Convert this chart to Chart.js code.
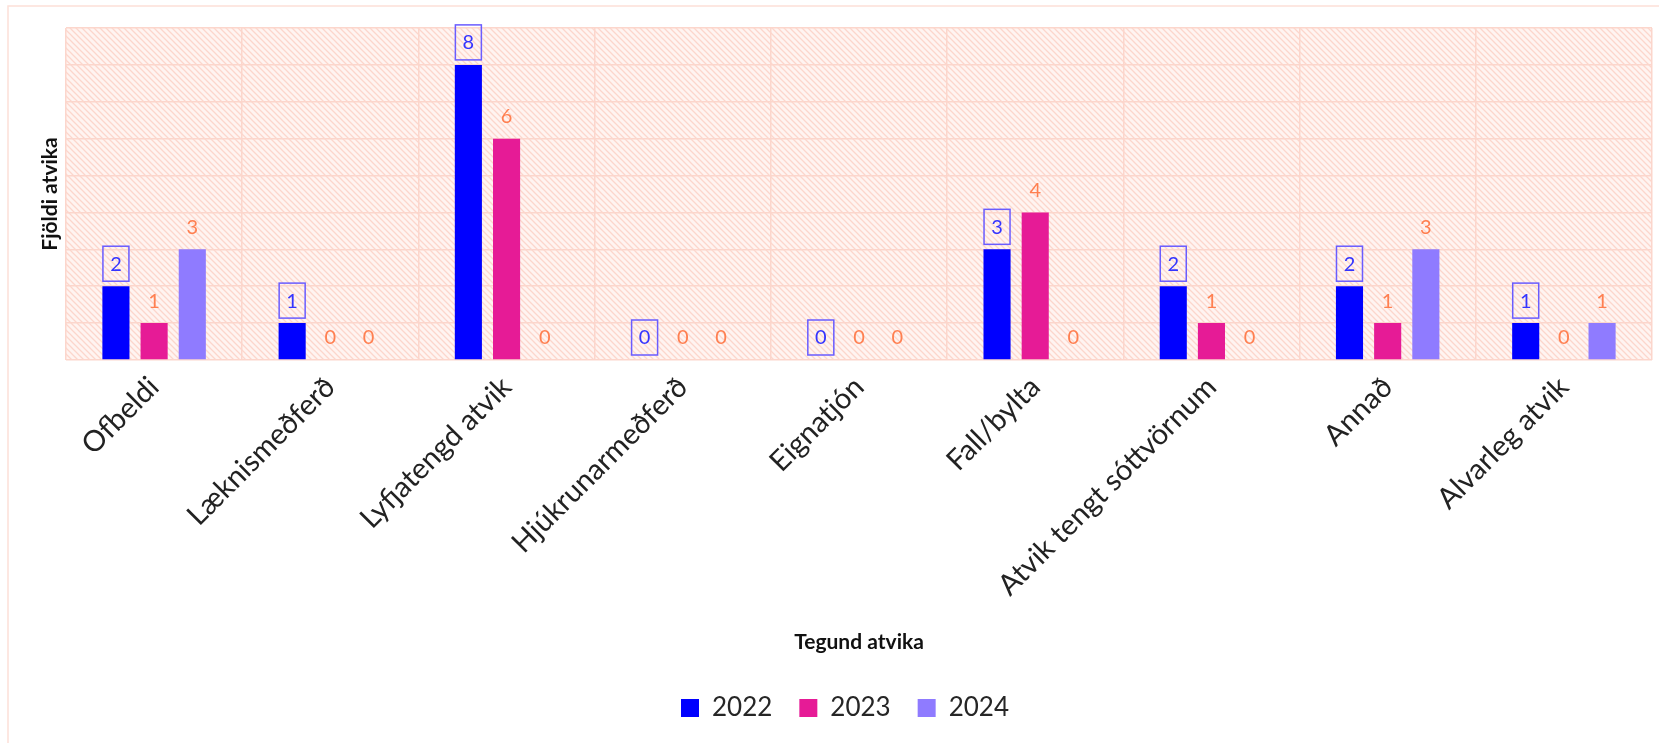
<!DOCTYPE html>
<html>
<head>
<meta charset="utf-8">
<script src="https://cdn.jsdelivr.net/npm/chart.js@4.4.1/dist/chart.umd.min.js"></script>
<style>
  html, body { margin: 0; padding: 0; background: #ffffff; }
  #wrap { width: 1659px; height: 743px; position: relative; }
</style>
</head>
<body>
<div id="wrap"><canvas id="c" width="1659" height="743"></canvas></div>
<script>
const categories = ["Ofbeldi", "Læknismeðferð", "Lyfjatengd atvik", "Hjúkrunarmeðferð", "Eignatjón", "Fall/bylta", "Atvik tengt sóttvörnum", "Annað", "Alvarleg atvik"];
const seriesNames = ["2022", "2023", "2024"];
const values2022 = [2, 1, 8, 0, 0, 3, 2, 2, 1];
const values2023 = [1, 0, 6, 0, 0, 4, 1, 1, 0];
const values2024 = [3, 0, 0, 0, 0, 0, 0, 3, 1];
const yAxisTitle = "Fjöldi atvika";
const xAxisTitle = "Tegund atvika";

const FONT = "Lato, 'Open Sans', sans-serif";
const colors = ["#0000ff", "#e61b96", "#8f7bff"];

function makePattern() {
  const t = document.createElement('canvas');
  t.width = 6; t.height = 6;
  const g = t.getContext('2d');
  g.fillStyle = '#fff4f1';
  g.fillRect(0, 0, 6, 6);
  g.strokeStyle = '#fcd6cc';
  g.lineWidth = 1.3;
  g.beginPath();
  g.moveTo(-1, -1); g.lineTo(7, 7);
  g.moveTo(-4, 2); g.lineTo(2, 8);
  g.moveTo(2, -4); g.lineTo(8, 2);
  g.stroke();
  return t;
}

const bgPlugin = {
  id: 'bgPlugin',
  beforeDraw(chart) {
    const ctx = chart.ctx;
    const a = chart.chartArea;
    ctx.save();
    ctx.fillStyle = '#ffffff';
    ctx.fillRect(0, 0, chart.width, chart.height);
    ctx.strokeStyle = '#fde0d8';
    ctx.lineWidth = 1.5;
    ctx.strokeRect(8, 6, chart.width + 20, chart.height + 20);
    ctx.fillStyle = ctx.createPattern(makePattern(), 'repeat');
    ctx.fillRect(a.left, a.top, a.right - a.left, a.bottom - a.top);
    ctx.restore();
  }
};

const labelPlugin = {
  id: 'labelPlugin',
  afterDatasetsDraw(chart) {
    const ctx = chart.ctx;
    ctx.save();
    ctx.font = "20px " + FONT;
    ctx.textAlign = 'center';
    ctx.textBaseline = 'middle';
    chart.data.datasets.forEach((ds, di) => {
      const meta = chart.getDatasetMeta(di);
      meta.data.forEach((bar, i) => {
        const v = ds.data[i];
        const cx = bar.x;
        const cy = bar.y - 23;
        if (di === 0) {
          ctx.strokeStyle = '#6a5cff';
          ctx.lineWidth = 1.5;
          ctx.strokeRect(cx - 13, cy - 17, 26, 35);
          ctx.fillStyle = '#3535ff';
        } else {
          ctx.fillStyle = '#ff7f50';
        }
        ctx.fillText(String(v), cx, cy + 1);
      });
    });
    ctx.restore();
  }
};

new Chart(document.getElementById('c'), {
  type: 'bar',
  data: {
    labels: categories,
    datasets: [
      { label: seriesNames[0], data: values2022, backgroundColor: colors[0] },
      { label: seriesNames[1], data: values2023, backgroundColor: colors[1] },
      { label: seriesNames[2], data: values2024, backgroundColor: colors[2] }
    ]
  },
  options: {
    responsive: false,
    animation: false,
    devicePixelRatio: 1,
    categoryPercentage: 0.65,
    barPercentage: 0.71,
    layout: { padding: { left: 38, right: 7, top: 28, bottom: 12 } },
    plugins: {
      legend: {
        position: 'bottom',
        labels: {
          boxWidth: 18, boxHeight: 18, padding: 27,
          color: '#262626',
          font: { family: FONT, size: 26 }
        }
      },
      tooltip: { enabled: false }
    },
    scales: {
      x: {
        grid: { color: '#fcd6cc', lineWidth: 1.5, drawTicks: false, offset: true },
        border: { display: false },
        ticks: {
          minRotation: 45, maxRotation: 45, padding: 10,
          color: '#222222',
          font: { family: FONT, size: 29 }
        },
        title: {
          display: true, text: xAxisTitle, color: '#111111',
          font: { family: FONT, size: 21, weight: 'bold' },
          padding: { top: 0, bottom: 13 }
        },
        afterFit(s) { s.height = 308; }
      },
      y: {
        min: 0, max: 9,
        grid: { color: '#fcd6cc', lineWidth: 1.5, drawTicks: false },
        border: { display: false },
        ticks: { display: false, stepSize: 1 },
        title: {
          display: true, text: yAxisTitle, color: '#111111',
          font: { family: FONT, size: 21, weight: 'bold' },
          padding: { top: 0, bottom: 0 }
        },
        afterFit(s) { s.width = 28; }
      }
    }
  },
  plugins: [bgPlugin, labelPlugin]
});
</script>
</body>
</html>
